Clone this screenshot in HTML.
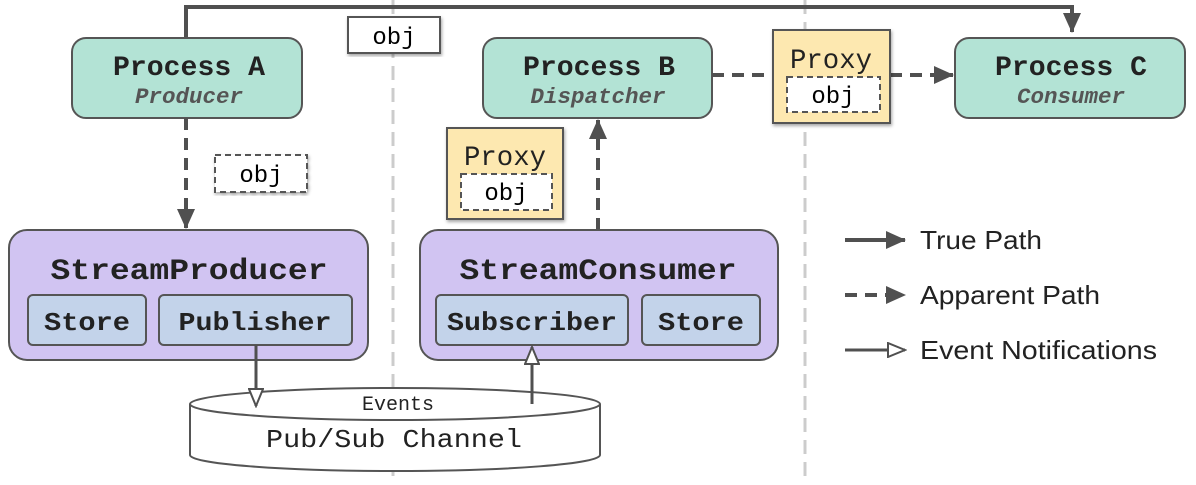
<!DOCTYPE html>
<html><head><style>
body{margin:0;background:#fff}
.m{font-family:"Liberation Mono",monospace}
.s{font-family:"Liberation Sans",sans-serif}
</style></head><body>
<svg width="1196" height="480" viewBox="0 0 1196 480" xmlns="http://www.w3.org/2000/svg">
<defs>
<marker id="sb" markerWidth="20" markerHeight="18" refX="19" refY="9" orient="auto" markerUnits="userSpaceOnUse" viewBox="0 0 20 18"><path d="M0,0 L20,9 L0,18z" fill="#505050"/></marker>
<marker id="h" markerWidth="20" markerHeight="16" refX="18" refY="8" orient="auto" markerUnits="userSpaceOnUse" viewBox="0 0 20 16"><path d="M1,1 L18,8 L1,15z" fill="#fff" stroke="#505050" stroke-width="2"/></marker>
<filter id="sh"><feDropShadow dx="1" dy="2" stdDeviation="1.5" flood-opacity="0.35"/></filter>
</defs>
<g stroke="#ccc" stroke-width="3" stroke-dasharray="14,8">
<line x1="393" y1="0" x2="393" y2="480"/><line x1="805" y1="0" x2="805" y2="480"/>
</g>
<path d="M186,38 V7 H1072 V32" fill="none" stroke="#505050" stroke-width="4" marker-end="url(#sb)"/>
<rect x="348" y="17" width="92" height="36" fill="#fff" stroke="#555" stroke-width="2" filter="url(#sh)"/>
<text class="m" x="394" y="44" font-size="24" text-anchor="middle">obj</text>
<g fill="#b3e3d5" stroke="#555" stroke-width="2">
<rect x="72" y="38" width="230" height="80" rx="14"/>
<rect x="483" y="38" width="229" height="80" rx="14"/>
<rect x="955" y="38" width="230" height="80" rx="14"/>
</g>
<g class="m" font-size="28" font-weight="bold" text-anchor="middle" fill="#222">
<text x="189" y="75" textLength="152" lengthAdjust="spacingAndGlyphs">Process A</text><text x="599" y="75" textLength="152" lengthAdjust="spacingAndGlyphs">Process B</text><text x="1071" y="75" textLength="152" lengthAdjust="spacingAndGlyphs">Process C</text>
</g>
<g class="m" font-size="22" font-style="italic" font-weight="bold" text-anchor="middle" fill="#555">
<text x="189" y="103" textLength="108" lengthAdjust="spacingAndGlyphs">Producer</text><text x="598" y="103" textLength="135" lengthAdjust="spacingAndGlyphs">Dispatcher</text><text x="1071" y="103" textLength="108" lengthAdjust="spacingAndGlyphs">Consumer</text>
</g>
<line x1="712" y1="75" x2="773" y2="75" stroke="#505050" stroke-width="4" stroke-dasharray="12,8"/>
<line x1="890" y1="75" x2="953" y2="75" stroke="#505050" stroke-width="4" stroke-dasharray="12,8" marker-end="url(#sb)"/>
<rect x="773" y="30" width="117" height="93" fill="#fde8b0" stroke="#555" stroke-width="2" filter="url(#sh)"/>
<text class="m" x="831" y="68" font-size="28" text-anchor="middle" fill="#222" textLength="82" lengthAdjust="spacingAndGlyphs">Proxy</text>
<rect x="787" y="77" width="93" height="35" fill="#fff" stroke="#555" stroke-width="2" stroke-dasharray="6,4"/>
<text class="m" x="833" y="103" font-size="24" text-anchor="middle">obj</text>
<line x1="186" y1="118" x2="186" y2="228" stroke="#505050" stroke-width="4" stroke-dasharray="12,8" marker-end="url(#sb)"/>
<rect x="215" y="155" width="92" height="37" fill="#fff" stroke="#555" stroke-width="2" stroke-dasharray="6,4" filter="url(#sh)"/>
<text class="m" x="261" y="182" font-size="24" text-anchor="middle">obj</text>
<rect x="447" y="128" width="116" height="91" fill="#fde8b0" stroke="#555" stroke-width="2" filter="url(#sh)"/>
<text class="m" x="505" y="165" font-size="28" text-anchor="middle" fill="#222" textLength="82" lengthAdjust="spacingAndGlyphs">Proxy</text>
<rect x="461" y="174" width="91" height="36" fill="#fff" stroke="#555" stroke-width="2" stroke-dasharray="6,4"/>
<text class="m" x="506" y="200" font-size="24" text-anchor="middle">obj</text>
<line x1="598" y1="230" x2="598" y2="120" stroke="#505050" stroke-width="4" stroke-dasharray="12,8" marker-end="url(#sb)"/>
<g fill="#d1c4f2" stroke="#555" stroke-width="2">
<rect x="9" y="230" width="359" height="130" rx="18"/>
<rect x="420" y="230" width="358" height="130" rx="18"/>
</g>
<g fill="#c3d3ea" stroke="#555" stroke-width="2">
<rect x="28" y="295" width="118" height="50" rx="5"/><rect x="159" y="295" width="193" height="50" rx="5"/>
<rect x="436" y="295" width="192" height="50" rx="5"/><rect x="642" y="295" width="118" height="50" rx="5"/>
</g>
<g class="m" font-size="30" font-weight="bold" text-anchor="middle" fill="#222">
<text x="189" y="279" textLength="277" lengthAdjust="spacingAndGlyphs">StreamProducer</text><text x="598" y="279" textLength="277" lengthAdjust="spacingAndGlyphs">StreamConsumer</text>
</g>
<g class="m" font-size="26" font-weight="bold" text-anchor="middle" fill="#222">
<text x="87" y="330" textLength="86" lengthAdjust="spacingAndGlyphs">Store</text><text x="255" y="330" textLength="153" lengthAdjust="spacingAndGlyphs">Publisher</text>
<text x="532" y="330" textLength="170" lengthAdjust="spacingAndGlyphs">Subscriber</text><text x="701" y="330" textLength="86" lengthAdjust="spacingAndGlyphs">Store</text>
</g>
<path d="M190,404 V455 A205,16 0 0 0 600,455 V404" fill="#fff" stroke="#555" stroke-width="2"/>
<ellipse cx="395" cy="404" rx="205" ry="16" fill="#fff" stroke="#555" stroke-width="2"/>
<text class="m" x="398" y="410" font-size="20" text-anchor="middle" fill="#222">Events</text>
<text class="m" x="394" y="447" font-size="26" text-anchor="middle" fill="#222" textLength="256" lengthAdjust="spacingAndGlyphs">Pub/Sub Channel</text>
<line x1="256" y1="345" x2="256" y2="406" stroke="#505050" stroke-width="3" marker-end="url(#h)"/>
<line x1="532" y1="404" x2="532" y2="347" stroke="#505050" stroke-width="3" marker-end="url(#h)"/>
<line x1="845" y1="240" x2="905" y2="240" stroke="#505050" stroke-width="4" marker-end="url(#sb)"/>
<line x1="845" y1="295" x2="905" y2="295" stroke="#505050" stroke-width="4" stroke-dasharray="12,8" marker-end="url(#sb)"/>
<line x1="845" y1="350" x2="905" y2="350" stroke="#505050" stroke-width="3" marker-end="url(#h)"/>
<g class="s" font-size="26" fill="#222">
<text x="920" y="249" textLength="122" lengthAdjust="spacingAndGlyphs">True Path</text><text x="920" y="304" textLength="180" lengthAdjust="spacingAndGlyphs">Apparent Path</text><text x="920" y="359" textLength="237" lengthAdjust="spacingAndGlyphs">Event Notifications</text>
</g>
</svg>
</body></html>
